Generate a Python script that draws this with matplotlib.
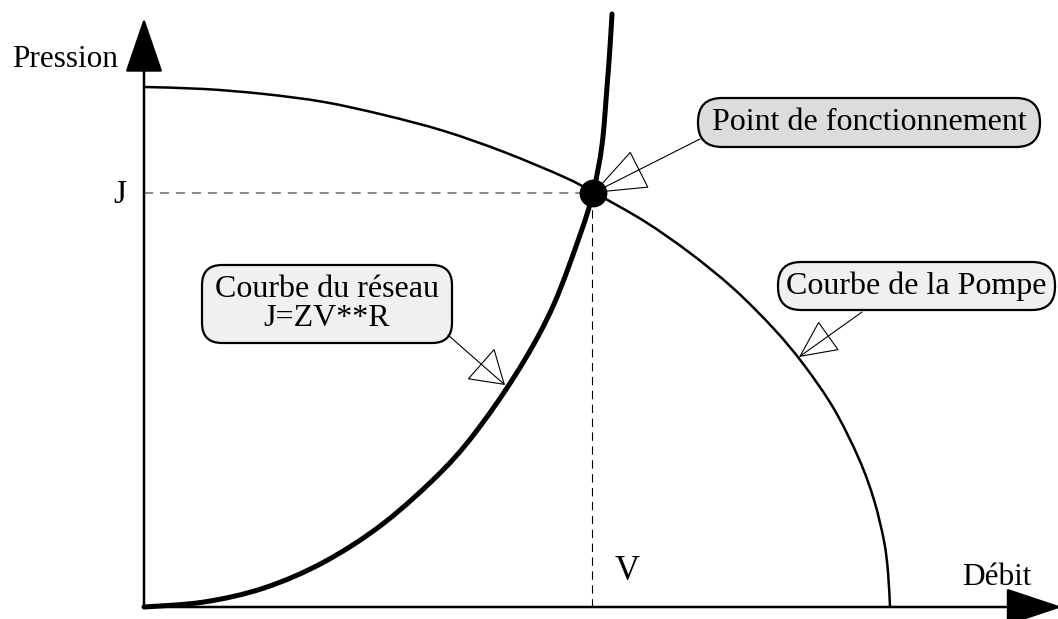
import numpy as np
import matplotlib.pyplot as plt
from matplotlib.patches import FancyBboxPatch, PathPatch
from matplotlib.path import Path

plt.rcParams["font.family"] = ["Liberation Serif", "DejaVu Serif"]
plt.rcParams["lines.scale_dashes"] = False

# curves (arbitrary units, origin at the axes corner)
pump_debit = [0, 60, 120, 180, 240, 300, 360, 420, 449, 500, 546, 590,
              630, 660, 690, 715, 730, 740, 744, 746]
pump_pression = [520, 518, 513, 505, 492, 476, 455, 430, 415, 386, 354, 318,
                 278, 242, 198, 148, 107, 66, 35, 0]

reseau_debit = [0, 60, 120, 180, 240, 300, 340, 380, 410, 436, 449, 458,
                463, 466, 468]
reseau_pression = [0, 5, 19, 45, 84, 138, 186, 246, 303, 372, 414, 462,
                   520, 560, 593]

# operating point
V = 449
J = 414


def P(x, y):
    """pixel position in the reference -> data coords"""
    return (x - 144, 607 - y)


def smooth_path(xs, ys):
    """Bezier path through the points (Catmull-Rom tangents)"""
    pts = np.column_stack([xs, ys]).astype(float)
    ext = np.vstack([pts[0], pts, pts[-1]])
    verts = [pts[0]]
    codes = [Path.MOVETO]
    for i in range(len(pts) - 1):
        p0, p1, p2, p3 = ext[i], ext[i + 1], ext[i + 2], ext[i + 3]
        verts += [p1 + (p2 - p0) / 6, p2 - (p3 - p1) / 6, p2]
        codes += [Path.CURVE4] * 3
    return Path(verts, codes)


fig = plt.figure(figsize=(10.58, 6.19), dpi=100)
ax = fig.add_axes([0, 0, 1, 1])
ax.set_xlim(-144, 914)
ax.set_ylim(-12, 607)
ax.axis("off")

# axes with filled arrow heads
ax.annotate("", xy=P(144, 18), xytext=(0, 0), annotation_clip=False,
            arrowprops=dict(arrowstyle="-|>,head_length=35,head_width=12",
                            mutation_scale=1, fc="black", ec="black", lw=1.8,
                            shrinkA=0, shrinkB=0))
ax.annotate("", xy=P(1062, 607), xytext=(0, 0), annotation_clip=False,
            arrowprops=dict(arrowstyle="-|>,head_length=36,head_width=12",
                            mutation_scale=1, fc="black", ec="black", lw=1.8,
                            shrinkA=0, shrinkB=0))

# curves
ax.add_patch(PathPatch(smooth_path(pump_debit, pump_pression), fill=False,
                       ec="black", lw=1.8, capstyle="butt", zorder=3))
ax.add_patch(PathPatch(smooth_path(reseau_debit, reseau_pression), fill=False,
                       ec="black", lw=3.6, capstyle="round", joinstyle="round",
                       zorder=4))

# guide lines to the operating point
ax.plot([0, V], [J, J], color="#808080", lw=1.3, dashes=(6.5, 5), zorder=2)
ax.plot([V - 1, V - 1], [0, J], color="black", lw=0.8, dashes=(6, 4), zorder=2)
ax.plot([V], [J], "o", color="black", ms=19, zorder=6)

# axis labels
ax.text(*P(118, 67), "Pression", fontsize=22.5, ha="right", va="baseline")
ax.text(*P(962, 585), "Débit", fontsize=22.5, ha="left", va="baseline")
ax.text(*P(120, 203), "J", fontsize=24, ha="center", va="baseline")
ax.text(*P(627, 580), "V", fontsize=25, ha="center", va="baseline")

# callout boxes
boxes = [
    # left, top, right, bottom (px), fill, corner radius, text
    ((698, 98, 1040, 147), "#dcdcdc", 24, "Point de fonctionnement"),
    ((202, 265, 452, 343), "#f0f0f0", 20, "Courbe du réseau\nJ=ZV**R"),
    ((778, 262, 1055, 310), "#f0f0f0", 23, "Courbe de la Pompe"),
]
for (l, t, r, b), fill, rad, label in boxes:
    x0, y0 = P(l, b)
    w, h = r - l, b - t
    patch = FancyBboxPatch((x0, y0), w, h,
                           boxstyle=f"round,pad=0,rounding_size={rad}",
                           fc=fill, ec="black", lw=1.6, zorder=7)
    ax.add_patch(patch)
    ax.text(x0 + w / 2, y0 + h / 2, label, fontsize=23, ha="center",
            va="center", linespacing=1.0, zorder=8)

# hollow arrow heads pointing at the curves
callouts = [
    (P(700, 139), (V, J), 36, 14),
    (P(448, 335), P(505, 385), 22, 14),
    (P(862, 312), P(799, 357), 25, 12),
]
for start, tip, hl, hw in callouts:
    ax.annotate("", xy=tip, xytext=start,
                arrowprops=dict(arrowstyle=f"-|>,head_length={hl},head_width={hw}",
                                mutation_scale=1, fc="none", ec="black", lw=0.8,
                                shrinkA=0, shrinkB=0),
                zorder=9)

fig.savefig("out.png", dpi=100, facecolor="white")
